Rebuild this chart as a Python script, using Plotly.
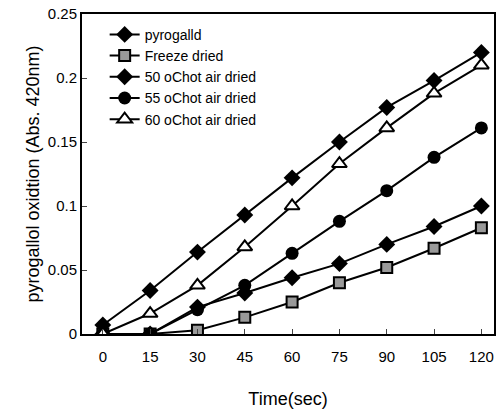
import plotly.graph_objects as go

time = [0, 15, 30, 45, 60, 75, 90, 105, 120]
pyrogallol = [0.007, 0.034, 0.064, 0.093, 0.122, 0.150, 0.177, 0.198, 0.220]
freeze_dried = [0.0, 0.0, 0.003, 0.013, 0.025, 0.040, 0.052, 0.067, 0.083]
hot50 = [0.0, 0.0, 0.021, 0.032, 0.044, 0.055, 0.070, 0.084, 0.100]
hot55 = [0.0, 0.0, 0.019, 0.038, 0.063, 0.088, 0.112, 0.138, 0.161]
hot60 = [0.0, 0.016, 0.038, 0.068, 0.100, 0.133, 0.161, 0.188, 0.210]

names = ["pyrogalld", "Freeze dried", "50 oChot air dried", "55 oChot air dried", "60 oChot air dried"]

fig = go.Figure()
line = dict(color="black", width=2)
fig.add_trace(go.Scatter(x=time, y=pyrogallol, name=names[0], mode="lines+markers", line=line,
                         marker=dict(symbol="diamond", size=13, color="black")))
fig.add_trace(go.Scatter(x=time, y=freeze_dried, name=names[1], mode="lines+markers", line=line,
                         marker=dict(symbol="square", size=11, color="#9a9a9a", line=dict(color="black", width=2))))
fig.add_trace(go.Scatter(x=time, y=hot50, name=names[2], mode="lines+markers", line=line,
                         marker=dict(symbol="diamond", size=13, color="black")))
fig.add_trace(go.Scatter(x=time, y=hot55, name=names[3], mode="lines+markers", line=line,
                         marker=dict(symbol="circle", size=13, color="black")))
fig.add_trace(go.Scatter(x=time, y=hot60, name=names[4], mode="lines+markers", line=line,
                         marker=dict(symbol="triangle-up", size=13, color="white", line=dict(color="black", width=2))))

font = "Liberation Sans, Arial, sans-serif"
fig.update_layout(
    width=498, height=416,
    margin=dict(l=82, r=2, t=14, b=82),
    paper_bgcolor="white", plot_bgcolor="white",
    font=dict(family=font, size=15, color="black"),
    showlegend=True,
    legend=dict(x=0.055, y=0.985, xanchor="left", yanchor="top", bgcolor="rgba(0,0,0,0)",
                font=dict(size=14), tracegroupgap=0, itemwidth=30),
    xaxis=dict(range=[-6.6, 124], tickvals=time, ticks="inside", ticklen=5, tickwidth=1,
               ticklabelstandoff=8,
               showline=True, linecolor="black", linewidth=2, mirror=True, showgrid=False,
               zeroline=False, title=dict(text="Time(sec)", standoff=28)),
    yaxis=dict(range=[0, 0.25], tickvals=[0, 0.05, 0.1, 0.15, 0.2, 0.25],
               ticktext=["0", "0.05", "0.1", "0.15", "0.2", "0.25"],
               ticks="inside", ticklen=5, tickwidth=1,
               showline=True, linecolor="black", linewidth=2, mirror=True, showgrid=False,
               zeroline=False, title=dict(text="pyrogallol oxidtion (Abs. 420nm)", standoff=3)),
)
fig.write_html("out.html")
